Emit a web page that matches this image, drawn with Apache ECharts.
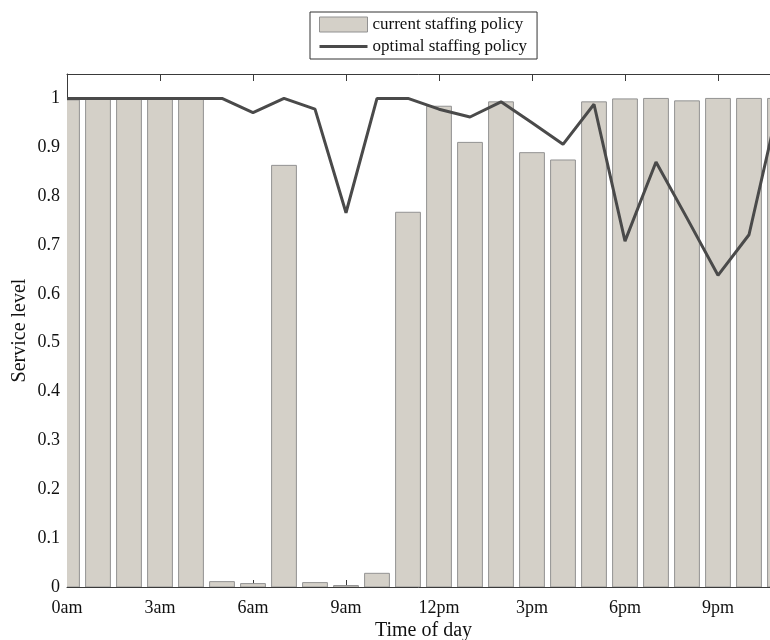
<!DOCTYPE html>
<html>
<head>
<meta charset="utf-8">
<script src="https://cdn.jsdelivr.net/npm/echarts@6/dist/echarts.min.js"></script>
<style>
  html, body { margin: 0; padding: 0; background: #fff; }
  #chart { width: 770px; height: 640px; }
</style>
</head>
<body>
<div id="chart"></div>
<script>
// Hour of day (0..23)
const hours = [0, 1, 2, 3, 4, 5, 6, 7, 8, 9, 10, 11, 12, 13, 14, 15, 16, 17, 18, 19, 20, 21, 22, 23];
// Service level under the current staffing policy
const currentLevel = [0.997, 1.0, 1.0, 1.0, 1.0, 0.011, 0.007, 0.863, 0.009, 0.003, 0.028, 0.767,
                      0.984, 0.910, 0.993, 0.889, 0.874, 0.993, 0.999, 1.0, 0.995, 1.0, 1.0, 1.0];
// Service level under the optimal staffing policy
const optimalLevel = [1.0, 1.0, 1.0, 1.0, 1.0, 1.0, 0.971, 1.0, 0.978, 0.766, 1.0, 1.0,
                      0.978, 0.962, 0.993, 0.950, 0.906, 0.988, 0.708, 0.870, 0.755, 0.638, 0.721, 1.0];
// Labels for the x ticks, one every three hours
const hourTickLabels = ['0am', '3am', '6am', '9am', '12pm', '3pm', '6pm', '9pm'];

const FONT = "'Liberation Serif', 'Times New Roman', serif";
const AXIS_COLOR = '#3a3a3a';
const BAR_FILL = '#d4d0c8';
const BAR_EDGE = '#929292';
const LINE_COLOR = '#4a4a4a';
const BAR_WIDTH_HOURS = 0.8;

const chart = echarts.init(document.getElementById('chart'), null, { renderer: 'canvas' });

const xAxisCommon = {
  type: 'value',
  min: 0,
  max: 23,
  interval: 3,
  splitLine: { show: false },
  axisLine: { show: true, onZero: false, lineStyle: { color: AXIS_COLOR, width: 1 } },
  axisTick: { show: true, inside: true, length: 7, lineStyle: { color: AXIS_COLOR, width: 1 } }
};

// Bars drawn as rectangles in data space, clipped to the plot area
function renderBar(params, api) {
  const x = api.value(0);
  const y = api.value(1);
  const top = api.coord([x, y]);
  const base = api.coord([x, 0]);
  const w = api.size([BAR_WIDTH_HOURS, 0])[0];
  return {
    type: 'rect',
    shape: { x: top[0] - w / 2, y: top[1], width: w, height: base[1] - top[1] },
    style: { fill: BAR_FILL, stroke: BAR_EDGE, lineWidth: 1 }
  };
}

chart.setOption({
  animation: false,
  backgroundColor: '#ffffff',
  textStyle: { fontFamily: FONT },
  legend: {
    left: 310,
    top: 12,
    orient: 'vertical',
    itemWidth: 48,
    itemHeight: 15,
    itemGap: 5,
    padding: [4, 10, 4, 9],
    borderColor: '#333',
    borderWidth: 1,
    textStyle: { fontFamily: FONT, fontSize: 17, color: '#111' },
    data: [
      {
        name: 'current staffing policy',
        icon: 'rect',
        itemStyle: { color: BAR_FILL, borderColor: BAR_EDGE, borderWidth: 1 }
      },
      {
        name: 'optimal staffing policy',
        icon: 'path://M0,0H48V3H0Z',
        itemStyle: { color: LINE_COLOR, borderWidth: 0 }
      }
    ]
  },
  grid: { left: 67, top: 74, width: 713, height: 513, outerBoundsMode: 'none', containLabel: false },
  xAxis: [
    Object.assign({}, xAxisCommon, {
      position: 'bottom',
      name: 'Time of day',
      nameLocation: 'middle',
      nameGap: 34,
      nameMoveOverlap: false,
      nameTextStyle: { fontFamily: FONT, fontSize: 20, color: '#111' },
      axisLabel: {
        fontFamily: FONT, fontSize: 18, color: '#111', margin: 12,
        showMaxLabel: false,
        formatter: v => (v % 3 === 0 ? hourTickLabels[v / 3] : '')
      }
    }),
    Object.assign({}, xAxisCommon, {
      position: 'top',
      axisLabel: { show: false }
    })
  ],
  yAxis: {
    type: 'value',
    min: 0,
    max: 1.05,
    interval: 0.1,
    name: 'Service level',
    nameLocation: 'middle',
    nameGap: 37,
    nameMoveOverlap: false,
    nameTextStyle: { fontFamily: FONT, fontSize: 20, color: '#111' },
    splitLine: { show: false },
    axisLine: { show: true, lineStyle: { color: AXIS_COLOR, width: 1 } },
    axisTick: { show: true, inside: true, length: 7, lineStyle: { color: AXIS_COLOR } },
    axisLabel: {
      fontFamily: FONT, fontSize: 18, color: '#111', margin: 7,
      showMaxLabel: false,
      formatter: v => {
        const t = v * 10;
        if (Math.abs(t - Math.round(t)) > 1e-6) return '';
        return String(parseFloat(v.toFixed(1)));
      }
    }
  },
  series: [
    {
      name: 'current staffing policy',
      type: 'custom',
      xAxisIndex: 0,
      clip: true,
      z: 2,
      renderItem: renderBar,
      encode: { x: 0, y: 1 },
      itemStyle: { color: BAR_FILL, borderColor: BAR_EDGE, borderWidth: 1 },
      data: hours.map((h, i) => [h, currentLevel[i]])
    },
    {
      name: 'optimal staffing policy',
      type: 'line',
      xAxisIndex: 0,
      showSymbol: false,
      symbol: 'none',
      z: 3,
      lineStyle: { color: LINE_COLOR, width: 3 },
      itemStyle: { color: LINE_COLOR },
      data: hours.map((h, i) => [h, optimalLevel[i]])
    }
  ]
});
</script>
</body>
</html>
